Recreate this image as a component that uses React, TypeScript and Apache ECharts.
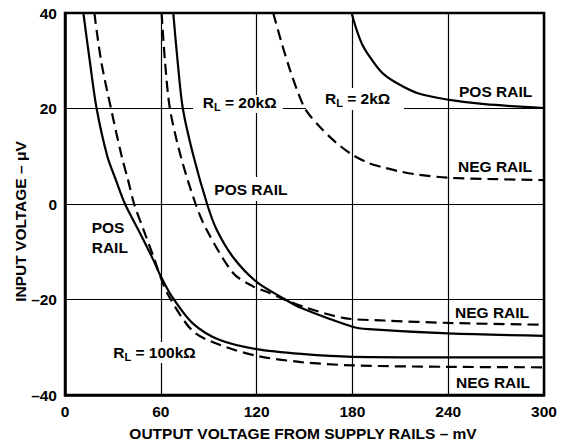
import React, { useEffect, useRef } from "react";
import * as echarts from "echarts";

const FONT = '"Liberation Sans", Arial, Helvetica, sans-serif';

// X axis ticks (mV) and Y axis ticks (µV)
const xTicks = { min: 0, max: 300, step: 60 };
const yTicks = { min: -40, max: 40, step: 20 };

// R_L = 100kΩ
const rl100kPos: number[][] = [
  [11.5, 40], [15.5, 30], [19.8, 20], [26.5, 10], [31.9, 5], [37.6, 0], [45.9, -5.4], [55.3, -11.7],
  [59.5, -14.8], [66.8, -19.3], [80, -25], [97, -28.5], [120, -30.4], [148, -31.4], [180, -32], [240, -32.1], [300, -32.1],
];
const rl100kNeg: number[][] = [
  [18.4, 40], [22.6, 30], [28.8, 20], [35.5, 10], [39.5, 5], [43.3, 0], [49.2, -5.4], [55.6, -11.2],
  [59.3, -14.8], [64.7, -19.1], [80, -26.6], [97, -29.5], [120, -31.8], [148, -33.1], [180, -33.8], [240, -34.1], [300, -34.2],
];
// R_L = 20kΩ
const rl20kPos: number[][] = [
  [67.8, 40], [70.5, 30], [73.8, 20], [80.5, 10], [89, 0], [95, -5.4], [105.4, -11.2],
  [120, -16.3], [137.5, -19.9], [148, -21.8], [180, -25.7], [190, -26.2], [240, -27.1], [300, -27.6],
];
const rl20kNeg: number[][] = [
  [60.5, 40], [62.6, 30], [65.7, 20], [72.5, 10], [81.8, 0], [88.7, -5.4], [105.4, -14.5],
  [118, -17.3], [126.3, -18.4], [138, -20.1], [152, -21.8], [175, -23.9], [200, -24.4], [240, -24.9], [300, -25.3],
];
// R_L = 2kΩ
const rl2kPos: number[][] = [
  [179.5, 40], [182.7, 36.4], [186, 33.5], [189.5, 31.5], [198, 27.7], [206.4, 25.6],
  [221, 23.2], [240.9, 21.8], [262.8, 20.9], [300, 20.1],
];
const rl2kNeg: number[][] = [
  [130.4, 40], [135.7, 33.7], [140.9, 28.1], [146.1, 23.2], [151, 19.6], [160, 16], [170, 12.8],
  [180, 10.3], [190, 8.6], [200, 7.6], [210, 6.8], [220, 6.2], [240, 5.5], [270, 5.2], [300, 5.0],
];

const curves = [
  { name: "100k POS", data: rl100kPos, dashed: false },
  { name: "100k NEG", data: rl100kNeg, dashed: true },
  { name: "20k POS", data: rl20kPos, dashed: false },
  { name: "20k NEG", data: rl20kNeg, dashed: true },
  { name: "2k POS", data: rl2kPos, dashed: false },
  { name: "2k NEG", data: rl2kNeg, dashed: true },
];

const labelStyle = { fill: "#000", fontFamily: FONT, fontWeight: "bold", fontSize: 15.5 };

function plainText(text: string, x: number, y: number) {
  return {
    type: "text", x, y, z: 5, silent: true,
    style: { ...labelStyle, text, align: "left", verticalAlign: "middle", textAlign: "left", textVerticalAlign: "middle" },
  };
}

function rlText(value: string, x: number, y: number) {
  const r = { fill: "#000", fontFamily: FONT, fontWeight: "bold", fontSize: 15.5, lineHeight: 16 };
  return {
    type: "text", x, y, z: 5, silent: true,
    style: {
      text: `{r|R}{s|L}{r| = ${value}}`,
      align: "left", verticalAlign: "middle", textAlign: "left", textVerticalAlign: "middle",
      rich: {
        r,
        s: { fill: "#000", fontFamily: FONT, fontWeight: "bold", fontSize: 11, lineHeight: 11, padding: [9, 0, 0, 0] },
      },
    },
  };
}

function whiteBox(x: number, y: number, width: number, height: number) {
  return { type: "rect", z: 1, silent: true, shape: { x, y, width, height }, style: { fill: "#fff" } };
}

export default function App() {
  const ref = useRef<HTMLDivElement>(null);
  useEffect(() => {
    if (!ref.current) return;
    const chart = echarts.init(ref.current, null, { renderer: "svg" });
    const axisLabel = { color: "#000", fontFamily: FONT, fontWeight: "bold", fontSize: 15.5, margin: 8 };
    const option: any = {
      animation: false,
      backgroundColor: "#fff",
      grid: { left: 65, right: 24, top: 13, bottom: 48, show: true, borderColor: "#000", borderWidth: 2.5 },
      xAxis: {
        type: "value", min: xTicks.min, max: xTicks.max, interval: xTicks.step,
        axisLine: { show: true, onZero: false, lineStyle: { color: "#000", width: 2.5 } },
        axisTick: { show: false },
        axisLabel,
        splitLine: { show: true, lineStyle: { color: "#000", width: 1.2 } },
      },
      yAxis: {
        type: "value", min: yTicks.min, max: yTicks.max, interval: yTicks.step,
        axisLine: { show: true, onZero: false, lineStyle: { color: "#000", width: 2.5 } },
        axisTick: { show: false },
        axisLabel: { ...axisLabel, formatter: (v: number) => (v < 0 ? "\u2013" + Math.abs(v) : String(v)) },
        splitLine: { show: true, lineStyle: { color: "#000", width: 1.2 } },
      },
      series: curves.map((c) => ({
        name: c.name,
        type: "line",
        data: c.data,
        showSymbol: false,
        symbol: "none",
        smooth: 0.3,
        clip: true,
        lineStyle: { color: "#000", width: 2.2, type: c.dashed ? [11, 6] : "solid" },
        z: 3,
      })),
      graphic: [
        whiteBox(193, 95, 90, 18),
        whiteBox(306, 88, 98, 22),
        whiteBox(208, 177, 86, 24),
        whiteBox(108, 342, 96, 21),
        rlText("20k\u03A9", 202.7, 102.8),
        rlText("2k\u03A9", 325, 98.8),
        rlText("100k\u03A9", 113.3, 352.3),
        plainText("POS RAIL", 459, 91.5),
        plainText("NEG RAIL", 458, 166.7),
        plainText("POS RAIL", 214.3, 189.5),
        plainText("POS", 91.7, 227.8),
        plainText("RAIL", 91.7, 247.5),
        plainText("NEG RAIL", 455, 312),
        plainText("NEG RAIL", 456, 382),
        {
          type: "text", x: 303, y: 433, z: 5, silent: true,
          style: { ...labelStyle, text: "OUTPUT VOLTAGE FROM SUPPLY RAILS \u2013 mV", align: "center", verticalAlign: "middle", textAlign: "center", textVerticalAlign: "middle" },
        },
        {
          type: "text", x: 20.7, y: 221.5, rotation: Math.PI / 2, z: 5, silent: true,
          style: { ...labelStyle, text: "INPUT VOLTAGE \u2013 \u03BCV", align: "center", verticalAlign: "middle", textAlign: "center", textVerticalAlign: "middle" },
        },
      ],
    };
    chart.setOption(option);
    return () => chart.dispose();
  }, []);
  return (
    <div
      ref={ref}
      style={{ position: "fixed", left: 0, top: 0, width: 568, height: 443, background: "#fff" }}
    />
  );
}
